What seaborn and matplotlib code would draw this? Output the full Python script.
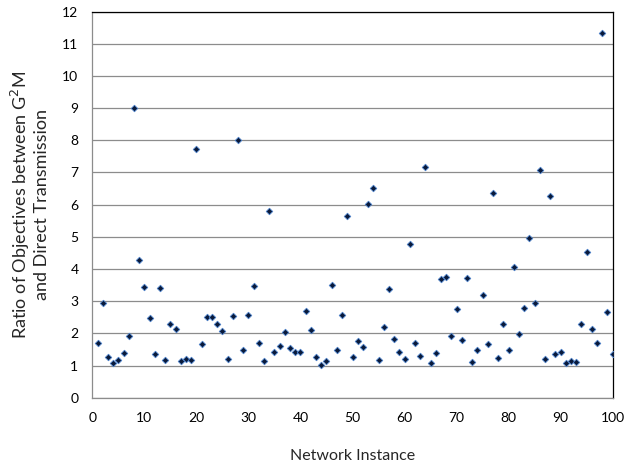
import numpy as np
import pandas as pd
import matplotlib
matplotlib.use("Agg")
import matplotlib.pyplot as plt
import seaborn as sns

# ratio of objectives per network instance
instance = list(range(1, 101))
ratio = [
    1.71, 2.93, 1.25, 1.08, 1.18, 1.38, 1.92, 9.02, 4.29, 3.45,
    2.47, 1.35, 3.42, 1.17, 2.28, 2.13, 1.15, 1.19, 1.17, 7.72,
    1.66, 2.52, 2.52, 2.30, 2.06, 1.21, 2.54, 8.01, 1.49, 2.57,
    3.48, 1.71, 1.13, 5.81, 1.43, 1.61, 2.04, 1.53, 1.43, 1.43,
    2.68, 2.11, 1.28, 1.03, 1.14, 3.51, 1.49, 2.58, 5.64, 1.27,
    1.77, 1.59, 6.01, 6.51, 1.18, 2.19, 3.39, 1.83, 1.42, 1.21,
    4.79, 1.69, 1.31, 7.16, 1.09, 1.39, 3.69, 3.76, 1.93, 2.75,
    1.79, 3.71, 1.10, 1.49, 3.20, 1.66, 6.36, 1.22, 2.30, 1.48,
    4.06, 1.98, 2.79, 4.96, 2.95, 7.07, 1.19, 6.27, 1.37, 1.42,
    1.09, 1.15, 1.10, 2.30, 4.53, 2.12, 1.71, 11.34, 2.67, 1.36,
]
x_ticks = list(range(0, 101, 10))
y_ticks = list(range(0, 13))

df = pd.DataFrame({"instance": instance, "ratio": ratio})

sns.set_style("white")
plt.rcParams["font.family"] = ["Lato", "DejaVu Sans"]

fig = plt.figure(figsize=(6.25, 4.66), dpi=100)
ax = fig.add_axes([0.1477, 0.1466, 0.8326, 0.8284])

sns.scatterplot(data=df, x="instance", y="ratio", ax=ax, marker="D", s=11,
                color="#0a1a3a", edgecolor="#4a7fc8", linewidth=0.6, zorder=3)

ax.set_xlim(0, 100)
ax.set_ylim(0, 12)
ax.set_xticks(x_ticks)
ax.set_yticks(y_ticks)
ax.yaxis.grid(True, color="#8c8c8c", linewidth=0.9)
ax.xaxis.grid(False)
ax.set_axisbelow(True)

for side in ["left", "bottom"]:
    ax.spines[side].set_color("#8c8c8c")
    ax.spines[side].set_linewidth(0.9)
for side in ["top", "right"]:
    ax.spines[side].set_color("#000000")
    ax.spines[side].set_linewidth(0.9)

ax.tick_params(axis="both", direction="out", length=4, width=0.9, color="#8c8c8c",
               labelsize=10, labelcolor="#000000", pad=6)

ax.set_xlabel("Network Instance", fontsize=11.5, labelpad=18)
ax.set_ylabel("Ratio of Objectives between G$^2$M\nand Direct Transmission",
              fontsize=13, labelpad=9, linespacing=1.1)

fig.savefig("out.png", dpi=100)
